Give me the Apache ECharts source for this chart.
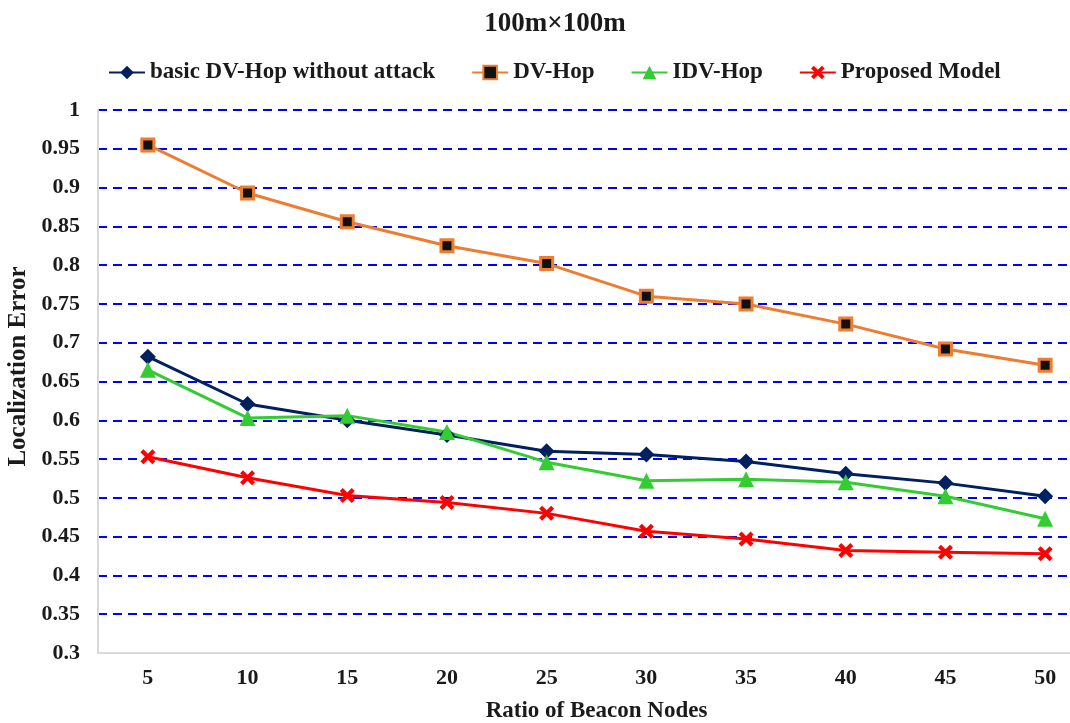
<!DOCTYPE html>
<html>
<head>
<meta charset="utf-8">
<script src="https://cdn.jsdelivr.net/npm/echarts@6/dist/echarts.min.js"></script>
<style>html,body{margin:0;padding:0;background:#fff}#c{width:1070px;height:723px}</style>
</head>
<body>
<div id="c"></div>
<script>
const categories = ['5','10','15','20','25','30','35','40','45','50'];
const basicNoAttack = [0.682, 0.621, 0.600, 0.581, 0.560, 0.556, 0.547, 0.531, 0.519, 0.502];
const dvHop = [0.955, 0.893, 0.856, 0.825, 0.802, 0.760, 0.750, 0.724, 0.692, 0.671];
const idvHop = [0.665, 0.603, 0.606, 0.585, 0.546, 0.522, 0.524, 0.520, 0.502, 0.473];
const proposed = [0.553, 0.526, 0.503, 0.494, 0.480, 0.457, 0.447, 0.432, 0.430, 0.428];
const seriesNames = ['basic DV-Hop without attack', 'DV-Hop', 'IDV-Hop', 'Proposed Model'];

const font = '"Liberation Serif", "Times New Roman", serif';
const crossPath = 'path://M2,0 L5,3 L8,0 L10,2 L7,5 L10,8 L8,10 L5,7 L2,10 L0,8 L3,5 L0,2 Z';

const chart = echarts.init(document.getElementById('c'));
chart.setOption({
  animation: false,
  title: {
    text: '100m×100m',
    left: 550, top: 6, textAlign: 'center',
    textStyle: { fontFamily: font, fontWeight: 'bold', fontSize: 27, color: '#1a1a1a' }
  },
  legend: {
    left: 103, top: 56,
    itemWidth: 36, itemHeight: 17, itemGap: 36,
    textStyle: { fontFamily: font, fontWeight: 'bold', fontSize: 23, color: '#1a1a1a' },
    data: seriesNames
  },
  grid: { left: 98, right: -25, top: 110, bottom: 70, containLabel: false, outerBoundsMode: 'none' },
  xAxis: {
    type: 'category',
    data: categories,
    boundaryGap: true,
    name: 'Ratio of Beacon Nodes',
    nameLocation: 'middle',
    nameGap: 47,
    nameTextStyle: { fontFamily: font, fontWeight: 'bold', fontSize: 23, color: '#1a1a1a' },
    axisLine: { lineStyle: { color: '#d9d9d9', width: 2 } },
    axisTick: { show: false },
    axisLabel: { fontFamily: font, fontWeight: 'bold', fontSize: 22, color: '#1a1a1a', margin: 14 },
    splitLine: { show: false }
  },
  yAxis: {
    type: 'value',
    min: 0.3, max: 1, interval: 0.05,
    name: 'Localization Error',
    nameLocation: 'middle',
    nameGap: 66,
    nameTextStyle: { fontFamily: font, fontWeight: 'bold', fontSize: 25, color: '#1a1a1a', padding: [0, 0, 0, 30] },
    axisLine: { show: true, lineStyle: { color: '#d9d9d9', width: 2 } },
    axisTick: { show: false },
    axisLabel: {
      fontFamily: font, fontWeight: 'bold', fontSize: 22, color: '#1a1a1a', margin: 18,
      formatter: v => String(parseFloat(v.toFixed(2)))
    },
    splitLine: { show: true, lineStyle: { color: '#0000ff', type: [9, 6], width: 2 } }
  },
  series: [
    {
      name: seriesNames[0], type: 'line', data: basicNoAttack,
      symbol: 'diamond', symbolSize: 16,
      lineStyle: { color: '#002060', width: 3 },
      itemStyle: { color: '#002060' }
    },
    {
      name: seriesNames[1], type: 'line', data: dvHop,
      symbol: 'rect', symbolSize: 12,
      lineStyle: { color: '#ed7d31', width: 3 },
      itemStyle: { color: '#111111', borderColor: '#ed7d31', borderWidth: 3 }
    },
    {
      name: seriesNames[2], type: 'line', data: idvHop,
      symbol: 'triangle', symbolSize: 16,
      lineStyle: { color: '#33cc33', width: 3 },
      itemStyle: { color: '#33cc33' }
    },
    {
      name: seriesNames[3], type: 'line', data: proposed,
      symbol: crossPath, symbolSize: 15,
      lineStyle: { color: '#ff0000', width: 3 },
      itemStyle: { color: '#ff0000' }
    }
  ]
});
</script>
</body>
</html>
